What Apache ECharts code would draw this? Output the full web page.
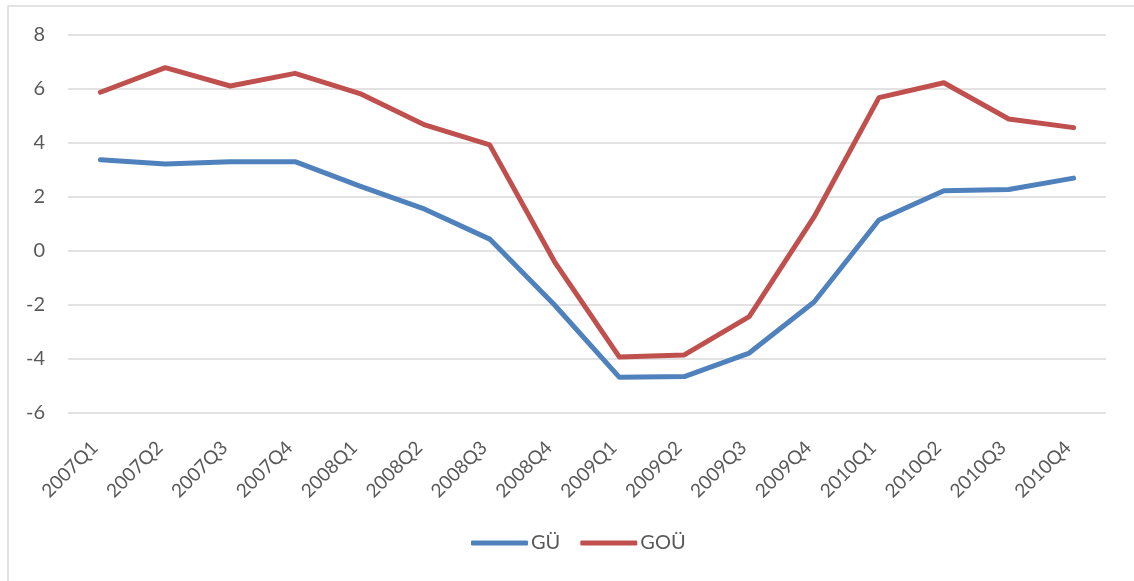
<!DOCTYPE html>
<html>
<head>
<meta charset="utf-8">
<script src="https://cdn.jsdelivr.net/npm/echarts@6/dist/echarts.min.js"></script>
<style>html,body{margin:0;padding:0;background:#fff;}#c{width:1134px;height:581px;}</style>
</head>
<body>
<div id="c"></div>
<script>
var categories = ['2007Q1','2007Q2','2007Q3','2007Q4','2008Q1','2008Q2','2008Q3','2008Q4','2009Q1','2009Q2','2009Q3','2009Q4','2010Q1','2010Q2','2010Q3','2010Q4'];
var gu  = [3.38, 3.22, 3.31, 3.31, 2.40, 1.55, 0.44, -2.00, -4.68, -4.65, -3.78, -1.89, 1.15, 2.23, 2.28, 2.70];
var gou = [5.88, 6.79, 6.11, 6.58, 5.83, 4.67, 3.93, -0.40, -3.93, -3.85, -2.43, 1.26, 5.68, 6.23, 4.89, 4.57];
var seriesNames = ['GÜ', 'GOÜ'];
var yTicks = {min: -6, max: 8, interval: 2};

var chart = echarts.init(document.getElementById('c'), null, {renderer: 'canvas'});
var font = 'Lato, "Open Sans", sans-serif';
chart.setOption({
  animation: false,
  backgroundColor: '#ffffff',
  graphic: [
    {type: 'rect', shape: {x: 8, y: 6, width: 1200, height: 700}, style: {fill: 'none', stroke: '#d9d9d9', lineWidth: 1.5}, silent: true}
  ],
  grid: {left: 68, right: 28, top: 35, bottom: 168, containLabel: false},
  legend: {
    data: seriesNames,
    bottom: 23,
    left: 466,
    itemWidth: 57,
    itemHeight: 5,
    itemGap: 20,
    textStyle: {color: '#595959', fontSize: 20, fontFamily: font, padding: [0, 0, 0, -2]},
    icon: 'roundRect'
  },
  xAxis: {
    type: 'category',
    data: categories,
    boundaryGap: true,
    axisLine: {show: false},
    axisTick: {show: false},
    axisLabel: {rotate: 45, color: '#595959', fontSize: 19, fontFamily: font, margin: 26, interval: 0, padding: [0, 8, 0, 0]}
  },
  yAxis: {
    type: 'value',
    min: yTicks.min, max: yTicks.max, interval: yTicks.interval,
    axisLine: {show: false},
    axisTick: {show: false},
    axisLabel: {color: '#595959', fontSize: 20, fontFamily: font, margin: 23},
    splitLine: {lineStyle: {color: '#d9d9d9', width: 1.5}}
  },
  series: [
    {name: seriesNames[0], type: 'line', data: gu, symbol: 'none', lineStyle: {color: '#4f81bd', width: 5, cap: 'round', join: 'round'}, itemStyle: {color: '#4f81bd'}},
    {name: seriesNames[1], type: 'line', data: gou, symbol: 'none', lineStyle: {color: '#c0504d', width: 5, cap: 'round', join: 'round'}, itemStyle: {color: '#c0504d'}}
  ]
});
</script>
</body>
</html>
